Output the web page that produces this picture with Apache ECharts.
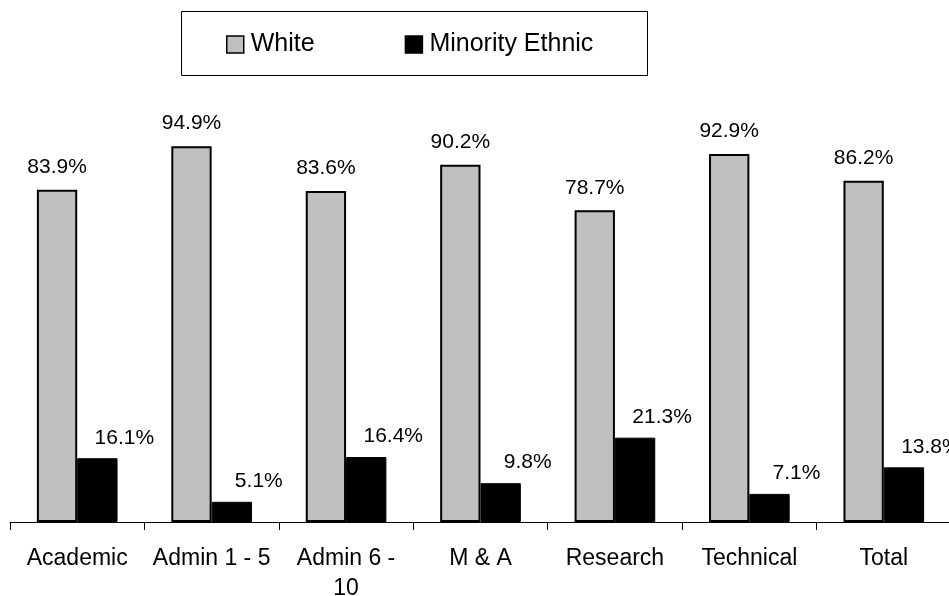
<!DOCTYPE html>
<html>
<head>
<meta charset="utf-8">
<script src="https://cdn.jsdelivr.net/npm/echarts@6/dist/echarts.min.js"></script>
<style>html,body{margin:0;padding:0;background:#fff}#c{width:949px;height:596px}</style>
</head>
<body>
<div id="c"></div>
<script>
var categories = ['Academic', 'Admin 1 - 5', 'Admin 6 -\n10', 'M & A', 'Research', 'Technical', 'Total'];
var whiteValues = [83.9, 94.9, 83.6, 90.2, 78.7, 92.9, 86.2];
var minorityValues = [16.1, 5.1, 16.4, 9.8, 21.3, 7.1, 13.8];
var seriesNames = ['White', 'Minority Ethnic'];

var FONT = '"Liberation Sans", Arial, Helvetica, sans-serif';
var chart = echarts.init(document.getElementById('c'), null, {renderer: 'canvas'});
chart.setOption({
  animation: false,
  backgroundColor: '#fff',
  graphic: [{
    type: 'rect', left: 179, top: 9,
    shape: {width: 466, height: 64},
    style: {fill: 'none', stroke: '#000', lineWidth: 1}
  }],
  legend: {
    left: 226, top: 32, padding: 0,
    itemWidth: 17, itemHeight: 17,
    itemGap: 90,
    icon: 'rect',
    itemStyle: {borderColor: '#000', borderWidth: 1.5},
    textStyle: {fontFamily: FONT, fontSize: 25, color: '#000', padding: [0, 0, 0, 2]},
    data: seriesNames
  },
  grid: {left: 10, top: 126, width: 941, height: 396, containLabel: false, outerBoundsMode: 'none'},
  xAxis: {
    type: 'category',
    data: categories,
    boundaryGap: true,
    axisLine: {lineStyle: {color: '#000', width: 1}},
    axisTick: {show: true, length: 8, lineStyle: {color: '#000'}},
    axisLabel: {fontFamily: FONT, fontSize: 23, color: '#000', margin: 22, lineHeight: 30, interval: 0}
  },
  yAxis: {
    type: 'value', min: 0, max: 100, show: false,
    splitLine: {show: false}
  },
  series: [{
    name: seriesNames[0],
    type: 'bar',
    data: whiteValues,
    barWidth: '30%',
    barGap: '0%',
    itemStyle: {color: '#C0C0C0', borderColor: '#000', borderWidth: 2},
    label: {
      show: true, position: 'top', distance: 12,
      fontFamily: FONT, fontSize: 21, color: '#000',
      formatter: function (p) { return p.value.toFixed(1) + '%'; }
    }
  }, {
    name: seriesNames[1],
    type: 'bar',
    data: minorityValues,
    barWidth: '30%',
    barGap: '0%',
    itemStyle: {color: '#000', borderColor: '#000', borderWidth: 1},
    label: {
      show: true, position: 'top', distance: 10, offset: [27, 0],
      fontFamily: FONT, fontSize: 21, color: '#000',
      formatter: function (p) { return p.value.toFixed(1) + '%'; }
    }
  }]
});
</script>
</body>
</html>
